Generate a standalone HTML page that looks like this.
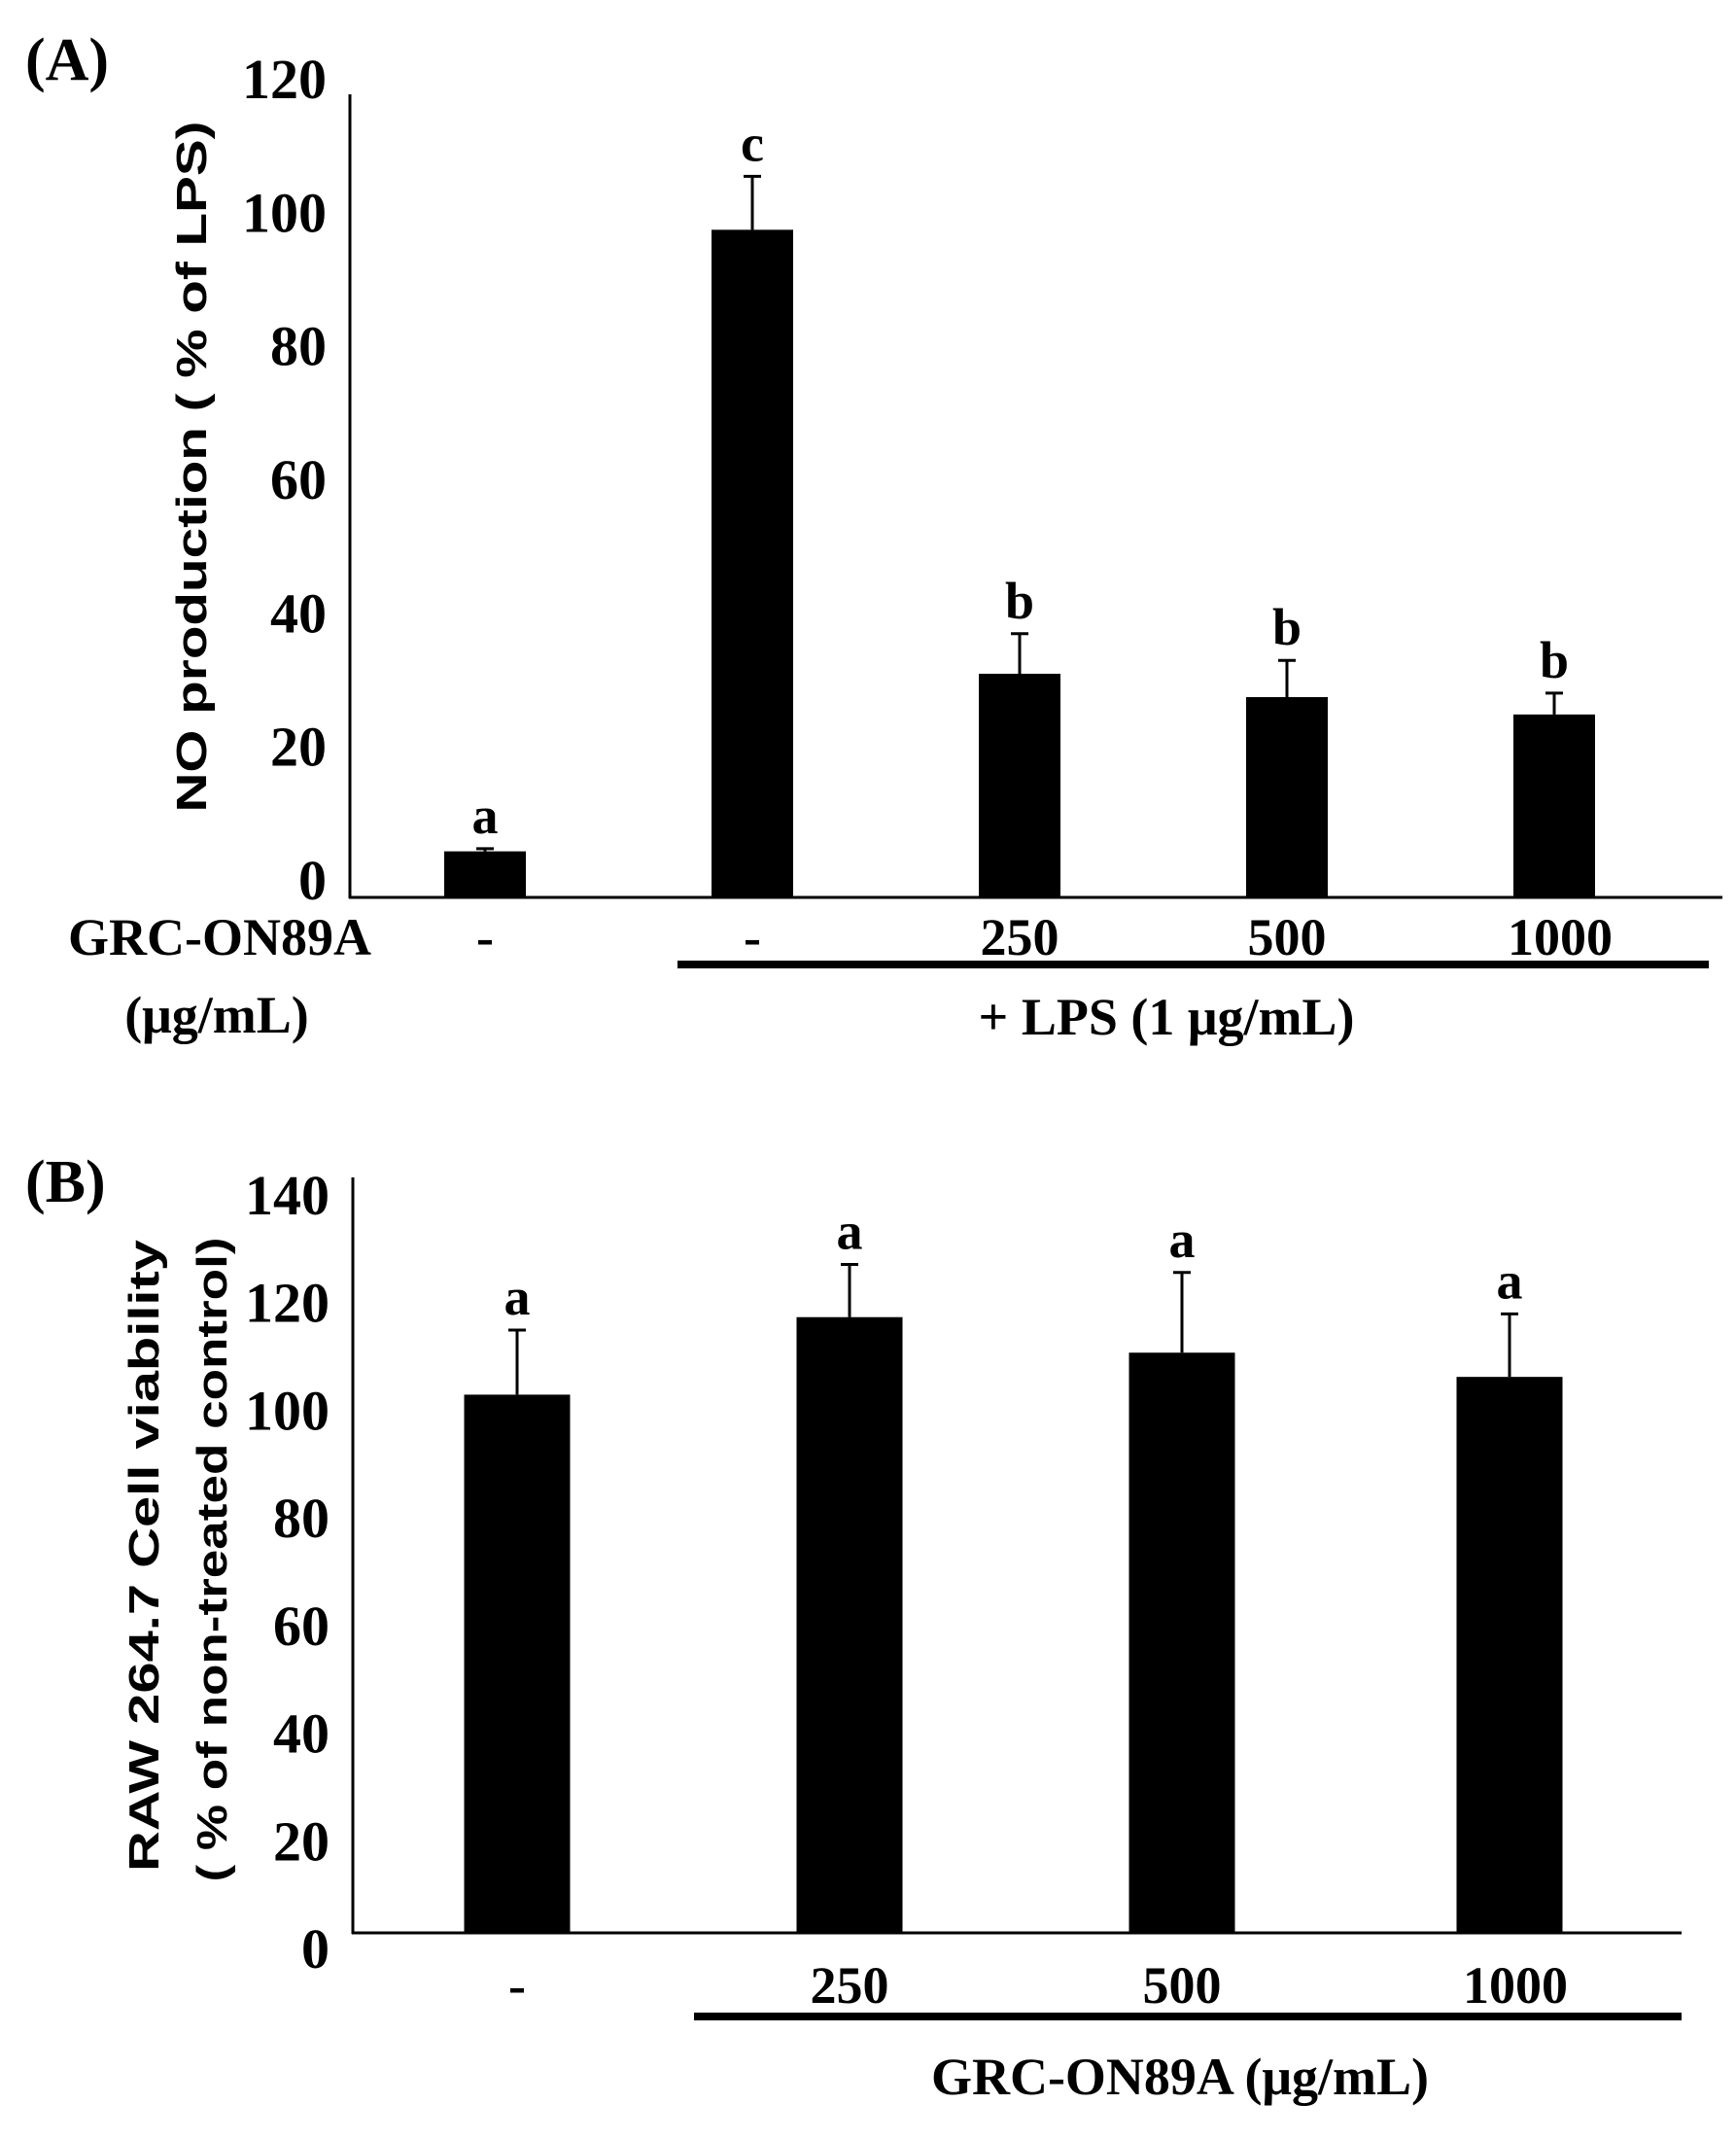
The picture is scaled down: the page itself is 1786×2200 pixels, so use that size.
<!DOCTYPE html>
<html><head><meta charset="utf-8"><style>
html,body{margin:0;padding:0;background:#fff}
svg{display:block}
text{font-family:"Liberation Serif",serif;font-weight:bold;fill:#000}
.yl{font-family:"Liberation Sans",sans-serif}
</style></head><body>
<svg id="fig" width="1786" height="2200" viewBox="0 0 1786 2200">
<text x="26" y="82" font-size="62">(A)</text>
<text x="26" y="1236" font-size="62">(B)</text>
<g id="ga"></g>
<g id="gb"></g>
</svg>
<script>
const aCategories = ["-", "-", "250", "500", "1000"];
const aValues = [6.9, 100, 33.5, 30, 27.4];
const aErrors = [0.4, 8, 6, 5.5, 3.2];
const aLetters = ["a", "c", "b", "b", "b"];
const aTicks = [0, 20, 40, 60, 80, 100, 120];
const bCategories = ["-", "250", "500", "1000"];
const bValues = [100, 114.4, 107.8, 103.3];
const bErrors = [12, 9.8, 14.9, 11.7];
const bLetters = ["a", "a", "a", "a"];
const bTicks = [0, 20, 40, 60, 80, 100, 120, 140];

const NS = "http://www.w3.org/2000/svg";
function mk(parent, tag, attrs, txt) {
  const e = document.createElementNS(NS, tag);
  for (const k in attrs) e.setAttribute(k, attrs[k]);
  if (txt !== undefined) e.textContent = txt;
  parent.appendChild(e);
  return e;
}
function drawChart(g, cfg) {
  const y = v => cfg.base - v * (cfg.base - cfg.top) / cfg.max;
  const ax = mk(g, "line", {x1: cfg.axX, y1: cfg.top - 2, x2: cfg.axX, y2: cfg.base + 1, stroke: "#000", "stroke-width": 3});
  
  
  const xl = mk(g, "line", {x1: cfg.axX - 1, y1: cfg.base, x2: cfg.axEnd, y2: cfg.base, stroke: "#000", "stroke-width": 3});
  
  
  cfg.ticks.forEach(t => {
    const tl = mk(g, "text", {x: cfg.axX - 24, y: y(t) + cfg.tickDy, "font-size": 58, "text-anchor": "end"}, String(t));
    
    
  });
  cfg.values.forEach((v, i) => {
    const cx = cfg.centers[i];
    const b = mk(g, "rect", {x: cx - cfg.bw / 2, y: y(v), width: cfg.bw, height: cfg.base - y(v), fill: "#000"});
    
    
    const et = y(v + cfg.errors[i]);
    const e = mk(g, "path", {d: `M${cx} ${y(v)}V${et}M${cx - 9} ${et}H${cx + 9}`, stroke: "#000", "stroke-width": 3, fill: "none"});
    
    
    const l = mk(g, "text", {x: cx, y: et - 16, "font-size": 54, "text-anchor": "middle"}, cfg.letters[i]);
    
    
    const c = mk(g, "text", {x: cx + (cfg.cats[i] === "1000" ? 6 : 0), y: cfg.catY, "font-size": 54, "text-anchor": "middle"}, cfg.cats[i]);
    
    
  });
}
const ga = document.getElementById("ga");
drawChart(ga, {axX: 360, axEnd: 1772, base: 923, top: 99, max: 120, ticks: aTicks, tickDy: 2,
  values: aValues, errors: aErrors, letters: aLetters, cats: aCategories,
  centers: [499, 774, 1049, 1324, 1599], bw: 84, catY: 982});
const gb = document.getElementById("gb");
drawChart(gb, {axX: 363, axEnd: 1730, base: 1988, top: 1213, max: 140, ticks: bTicks, tickDy: 36,
  values: bValues, errors: bErrors, letters: bLetters, cats: bCategories,
  centers: [532, 874, 1216, 1553], bw: 109, catY: 2060});

let t;
t = mk(ga, "text", {x: 226, y: 982, "font-size": 54, "text-anchor": "middle"}, "GRC-ON89A");


t = mk(ga, "text", {x: 223, y: 1062, "font-size": 54, "text-anchor": "middle"}, "(μg/mL)");


t = mk(ga, "rect", {x: 697, y: 988, width: 1061, height: 8, fill: "#000"});


t = mk(ga, "text", {x: 1200, y: 1064, "font-size": 54, "text-anchor": "middle"}, "+ LPS (1 μg/mL)");


t = mk(ga, "text", {x: 0, y: 0, "font-size": 44, "text-anchor": "middle", class: "yl", transform: "translate(212,480) rotate(-90)", textLength: 711, lengthAdjust: "spacingAndGlyphs"}, "NO production ( % of LPS)");



t = mk(gb, "rect", {x: 714, y: 2070, width: 1016, height: 8, fill: "#000"});


t = mk(gb, "text", {x: 1214, y: 2154, "font-size": 54, "text-anchor": "middle"}, "GRC-ON89A (μg/mL)");


t = mk(gb, "text", {x: 0, y: 0, "font-size": 44, "text-anchor": "middle", class: "yl", transform: "translate(163,1600) rotate(-90)", textLength: 650, lengthAdjust: "spacingAndGlyphs"}, "RAW 264.7 Cell viability");


t = mk(gb, "text", {x: 0, y: 0, "font-size": 44, "text-anchor": "middle", class: "yl", transform: "translate(233,1604) rotate(-90)", textLength: 663, lengthAdjust: "spacingAndGlyphs"}, "( % of non-treated control)");


</script>
</body></html>
